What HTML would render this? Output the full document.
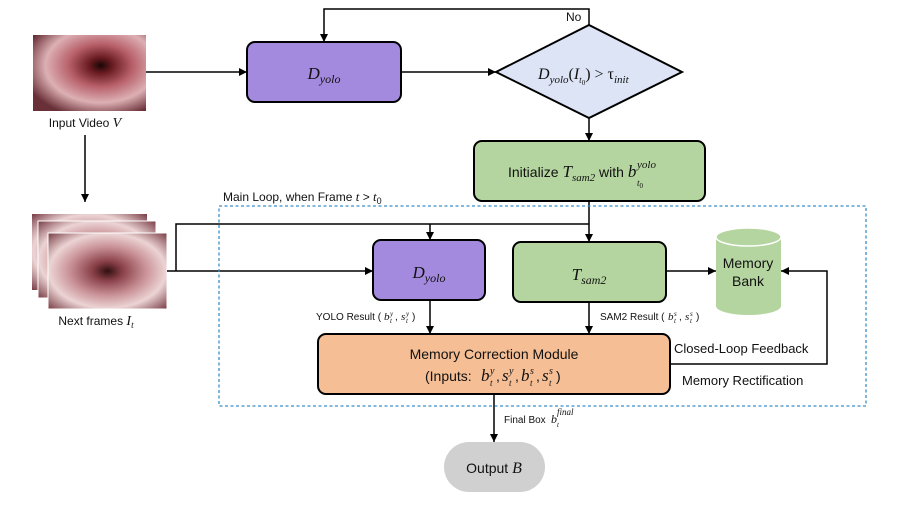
<!DOCTYPE html>
<html><head><meta charset="utf-8"><style>
html,body{margin:0;padding:0;background:#fff;}
svg{display:block;}
text{font-family:"Liberation Sans",sans-serif;fill:#111;}
.m{font-family:"Liberation Serif",serif;font-style:italic;}
</style></head><body>
<svg width="897" height="505" viewBox="0 0 897 505" xmlns="http://www.w3.org/2000/svg">
<defs>
<marker id="a" viewBox="0 0 10 10" refX="10" refY="5" markerWidth="8" markerHeight="8" orient="auto" markerUnits="userSpaceOnUse"><path d="M0,0L10,5L0,10z" fill="#000"/></marker>
<radialGradient id="ph" cx="0.6" cy="0.4" r="0.7">
<stop offset="0" stop-color="#1a0606"/><stop offset="0.15" stop-color="#6a1c22"/><stop offset="0.4" stop-color="#b8606a"/><stop offset="0.7" stop-color="#dcb0b4"/><stop offset="1" stop-color="#6a3038"/>
</radialGradient>
<radialGradient id="ph2" cx="0.5" cy="0.5" r="0.7">
<stop offset="0" stop-color="#301010"/><stop offset="0.18" stop-color="#8a4048"/><stop offset="0.45" stop-color="#c89096"/><stop offset="0.7" stop-color="#ecd4d4"/><stop offset="1" stop-color="#7a4048"/>
</radialGradient>
</defs>
<g fill="none" stroke="#000" stroke-width="1.5">
<rect x="33" y="35" width="113" height="76" fill="url(#ph)" stroke="none"/>
<rect x="32" y="214" width="115" height="76" fill="url(#ph2)" stroke="none"/>
<rect x="38" y="221" width="118" height="77" fill="url(#ph2)" stroke="#fff" stroke-width="1"/>
<rect x="48" y="233" width="119" height="76" fill="url(#ph2)" stroke="#fff" stroke-width="1"/>
<line x1="85" y1="135" x2="85" y2="202" marker-end="url(#a)"/>
<line x1="146" y1="72" x2="247" y2="72" marker-end="url(#a)"/>
<line x1="401" y1="72" x2="496" y2="72" marker-end="url(#a)"/>
<polyline points="589,25 589,9 324,9 324,42" marker-end="url(#a)"/>
<line x1="589" y1="118" x2="589" y2="141" marker-end="url(#a)"/>
<line x1="589" y1="201" x2="589" y2="242" marker-end="url(#a)"/>
<polyline points="589,224 176,224 176,271"/>
<line x1="430" y1="224" x2="430" y2="240" marker-end="url(#a)"/>
<line x1="167" y1="271" x2="373" y2="271" marker-end="url(#a)"/>
<line x1="666" y1="271" x2="716" y2="271" marker-end="url(#a)"/>
<polyline points="670,364 827,364 827,271 781,271" marker-end="url(#a)"/>
<line x1="430" y1="300" x2="430" y2="334" marker-end="url(#a)"/>
<line x1="589" y1="302" x2="589" y2="334" marker-end="url(#a)"/>
<line x1="494" y1="394" x2="494" y2="442" marker-end="url(#a)"/>
<rect x="219" y="206" width="647" height="200" stroke="#3a8fc8" stroke-width="1.3" stroke-dasharray="3,2.5"/>
<rect x="247" y="42" width="154" height="60" rx="8" fill="#a48ade" stroke-width="2"/>
<polygon points="496,72 589,25 682,72 589,118" fill="#dde4f5" stroke-width="2"/>
<rect x="474" y="141" width="231" height="60" rx="8" fill="#b5d5a0" stroke-width="2"/>
<rect x="373" y="240" width="112" height="60" rx="8" fill="#a48ade" stroke-width="2"/>
<rect x="513" y="242" width="153" height="60" rx="8" fill="#b5d5a0" stroke-width="2"/>
<rect x="318" y="334" width="352" height="60" rx="8" fill="#f5be94" stroke-width="2"/>
<rect x="444" y="442" width="101" height="50" rx="25" fill="#d0d0d0" stroke="none"/>
<path d="M716,237 L716,306 A32.5,9 0 0 0 781,306 L781,237" fill="#b5d5a0" stroke="none"/>
<ellipse cx="748.5" cy="237" rx="32.5" ry="9" fill="#b5d5a0" stroke="#fff" stroke-width="1.5"/>
</g>
<text x="85" y="127" font-size="12" text-anchor="middle">Input Video <tspan class="m" font-size="14">V</tspan></text>
<text x="96" y="325" font-size="12" text-anchor="middle">Next frames <tspan class="m" font-size="14">I</tspan><tspan class="m" font-size="9" dy="3">t</tspan></text>
<text x="324" y="79" font-size="17" text-anchor="middle" class="m">D<tspan font-size="12" dy="4">yolo</tspan></text>
<text x="538" y="79" font-size="16" class="m">D<tspan font-size="11" dy="4">yolo</tspan><tspan dy="-4" font-style="normal">(</tspan>I<tspan font-size="9" dy="4">t</tspan><tspan font-size="7" dy="2" font-style="normal">0</tspan><tspan dy="-6" font-style="normal">) &gt; τ</tspan><tspan font-size="11" dy="4">init</tspan></text>
<text x="566" y="21" font-size="12">No</text>
<text x="508" y="177" font-size="14">Initialize <tspan class="m" font-size="17">T</tspan><tspan class="m" font-size="11" dy="4">sam2</tspan><tspan dy="-4"> with </tspan><tspan class="m" font-size="17">b</tspan></text>
<text x="637" y="168" font-size="11" class="m">yolo</text>
<text x="637" y="186" font-size="9" class="m">t<tspan font-size="7" dy="2" font-style="normal">0</tspan></text>
<text x="223" y="201" font-size="12">Main Loop, when Frame <tspan class="m" font-size="13">t</tspan> &gt; <tspan class="m" font-size="13">t</tspan><tspan font-size="9" dy="3">0</tspan></text>
<text x="429" y="278" font-size="17" text-anchor="middle" class="m">D<tspan font-size="12" dy="4">yolo</tspan></text>
<text x="589" y="280" font-size="17" text-anchor="middle" class="m">T<tspan font-size="12" dy="4">sam2</tspan></text>
<text x="748" y="268" font-size="14" text-anchor="middle">Memory</text>
<text x="748" y="286" font-size="14" text-anchor="middle">Bank</text>
<text x="316" y="320" font-size="10">YOLO Result (</text>
<text x="384" y="320" font-size="11" class="m">b</text><text x="390" y="316" font-size="7" class="m">y</text><text x="390" y="323" font-size="7" class="m">t</text>
<text x="395" y="320" font-size="10">,</text>
<text x="401" y="320" font-size="11" class="m">s</text><text x="406" y="316" font-size="7" class="m">y</text><text x="406" y="323" font-size="7" class="m">t</text>
<text x="412" y="320" font-size="10">)</text>
<text x="600" y="320" font-size="10">SAM2 Result (</text>
<text x="668" y="320" font-size="11" class="m">b</text><text x="674" y="316" font-size="7" class="m">s</text><text x="674" y="323" font-size="7" class="m">t</text>
<text x="679" y="320" font-size="10">,</text>
<text x="685" y="320" font-size="11" class="m">s</text><text x="690" y="316" font-size="7" class="m">s</text><text x="690" y="323" font-size="7" class="m">t</text>
<text x="696" y="320" font-size="10">)</text>
<text x="494" y="359" font-size="14" text-anchor="middle">Memory Correction Module</text>
<text x="425" y="381" font-size="14">(Inputs:</text>
<text x="481" y="381" font-size="17" class="m">b</text><text x="490" y="374" font-size="10" class="m">y</text><text x="490" y="386" font-size="9" class="m">t</text>
<text x="496" y="381" font-size="14">,</text>
<text x="502" y="381" font-size="17" class="m">s</text><text x="509" y="374" font-size="10" class="m">y</text><text x="509" y="386" font-size="9" class="m">t</text>
<text x="515" y="381" font-size="14">,</text>
<text x="521" y="381" font-size="17" class="m">b</text><text x="530" y="374" font-size="10" class="m">s</text><text x="530" y="386" font-size="9" class="m">t</text>
<text x="536" y="381" font-size="14">,</text>
<text x="542" y="381" font-size="17" class="m">s</text><text x="549" y="374" font-size="10" class="m">s</text><text x="549" y="386" font-size="9" class="m">t</text>
<text x="556" y="381" font-size="14">)</text>
<text x="674" y="353" font-size="13">Closed-Loop Feedback</text>
<text x="682" y="385" font-size="13">Memory Rectification</text>
<text x="504" y="423" font-size="10">Final Box</text>
<text x="551" y="423" font-size="12" class="m">b</text><text x="557" y="415" font-size="9" class="m">final</text><text x="557" y="427" font-size="7" class="m">t</text>
<text x="494" y="473" font-size="14" text-anchor="middle">Output <tspan class="m" font-size="16">B</tspan></text>
</svg>
</body></html>
